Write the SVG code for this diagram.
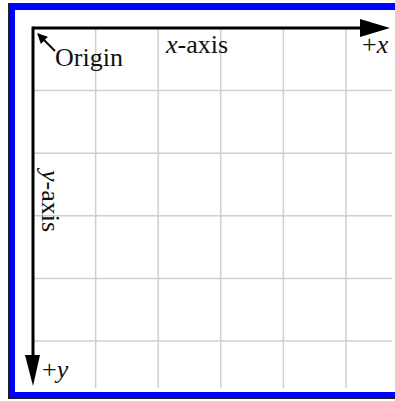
<svg xmlns="http://www.w3.org/2000/svg" width="395" height="401" viewBox="0 0 395 401">
<defs>
<style>
.grid{stroke:#cfcfcf;stroke-width:1.5;fill:none}
.axis{stroke:#000;stroke-width:3;fill:none}
.lbl{font-family:"Liberation Serif","Times New Roman",serif;font-size:26px;fill:#111}
.it{font-style:italic}
</style>
<marker id="sm" viewBox="0 0 10 10" refX="9" refY="5" markerWidth="6" markerHeight="5" orient="auto" markerUnits="strokeWidth">
<path d="M0,0 L10,5 L0,10 z" fill="#000"/>
</marker>
</defs>
<rect x="0" y="0" width="395" height="401" fill="#fff"/>
<rect x="8.5" y="3.5" width="400" height="395" fill="#fff" stroke="#222" stroke-width="1"/>
<rect x="12" y="7" width="400" height="388" fill="none" stroke="#0000ff" stroke-width="6"/>
<g id="grid" class="grid">
<path d="M95.6,28V388M158.2,28V388M220.8,28V388M283.4,28V388M346,28V388"/>
<path d="M33,90.6H392M33,153.2H392M33,215.8H392M33,278.4H392M33,341H392"/>
</g>
<g id="connectors">
<path class="axis" d="M33,28H362"/>
<path d="M360,19 L390,28 L360,37 z" fill="#000"/>
<path class="axis" d="M33,26.5V358"/>
<path d="M25,355 L33,386 L40,355 z" fill="#000"/>
<path d="M55,51 L38,34" stroke="#000" stroke-width="2" marker-end="url(#sm)"/>
</g>
<g id="origin"><text class="lbl" x="55" y="66">Origin</text></g>
<g id="xaxis"><text class="lbl" x="166" y="53"><tspan class="it">x</tspan>-axis</text></g>
<g id="plusx"><text class="lbl" x="362" y="53">+<tspan class="it">x</tspan></text></g>
<g id="yaxis"><text class="lbl" x="42" y="170" transform="rotate(90 42 170)"><tspan class="it">y</tspan>-axis</text></g>
<g id="plusy"><text class="lbl" x="42" y="378">+<tspan class="it">y</tspan></text></g>
</svg>
